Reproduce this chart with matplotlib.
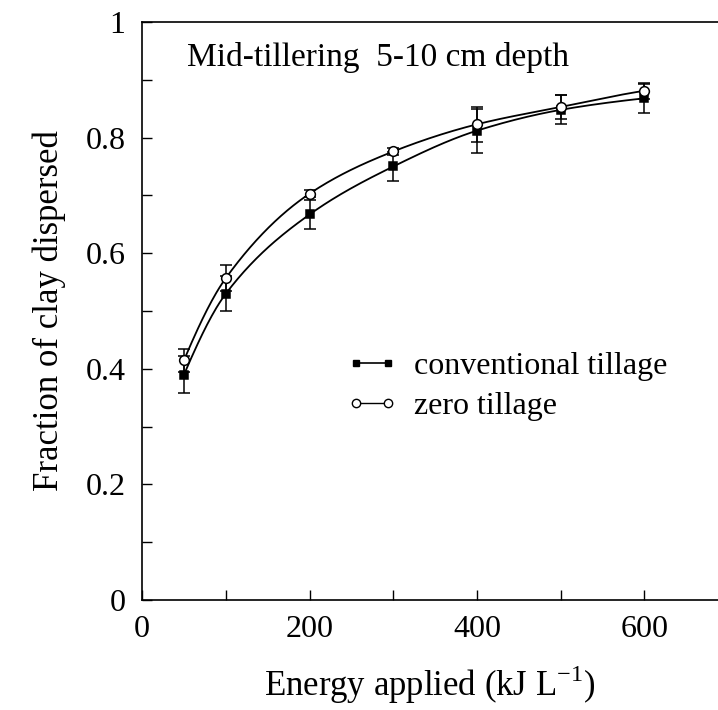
import numpy as np
import matplotlib
matplotlib.use("Agg")
import matplotlib.pyplot as plt
from matplotlib.lines import Line2D
from matplotlib.ticker import MultipleLocator, FixedLocator

plt.rcParams['font.family'] = ['Liberation Serif', 'DejaVu Serif']

energy = [50, 100, 200, 300, 400, 500, 600]
conv = [0.39, 0.53, 0.667, 0.75, 0.812, 0.848, 0.868]
conv_err = [0.032, 0.03, 0.025, 0.025, 0.038, 0.025, 0.025]
zero = [0.415, 0.557, 0.703, 0.776, 0.823, 0.853, 0.881]
zero_err = [0.02, 0.022, 0.006, 0.006, 0.03, 0.02, 0.014]
series_labels = ["conventional tillage", "zero tillage"]
title_text = "Mid-tillering  5-10 cm depth"
xlabel_text = "Energy applied (kJ L$^{\\mathregular{-1}}$)"
ylabel_text = "Fraction of clay dispersed"


def pchip(x, y, xs):
    x = np.asarray(x, float); y = np.asarray(y, float)
    h = np.diff(x); d = np.diff(y) / h
    n = len(x); m = np.zeros(n)
    for k in range(1, n - 1):
        if d[k - 1] * d[k] > 0:
            w1 = 2 * h[k] + h[k - 1]; w2 = h[k] + 2 * h[k - 1]
            m[k] = (w1 + w2) / (w1 / d[k - 1] + w2 / d[k])
    m[0] = d[0] * 1.2; m[-1] = d[-1] * 0.8
    out = np.empty_like(xs)
    for i, xv in enumerate(xs):
        k = min(max(np.searchsorted(x, xv) - 1, 0), n - 2)
        t = (xv - x[k]) / h[k]
        h00 = 2*t**3 - 3*t**2 + 1; h10 = t**3 - 2*t**2 + t
        h01 = -2*t**3 + 3*t**2; h11 = t**3 - t**2
        out[i] = h00*y[k] + h10*h[k]*m[k] + h01*y[k+1] + h11*h[k]*m[k+1]
    return out


fig = plt.figure(figsize=(7.18, 7.10), dpi=100)
ax = fig.add_axes([0.198, 0.155, 0.802, 0.814])

xs = np.linspace(energy[0], energy[-1], 300)
for vals, err, mk, fc in [(conv, conv_err, 's', 'black'), (zero, zero_err, 'o', 'white')]:
    ax.plot(xs, pchip(energy, vals, xs), color='black', lw=1.3, zorder=2)
    ax.errorbar(energy, vals, yerr=err, fmt='none', ecolor='black', elinewidth=1.1,
                capsize=4, capthick=1.1, zorder=3)
    ax.plot(energy, vals, linestyle='none', marker=mk, markersize=7 if mk == 'o' else 6,
            markerfacecolor=fc, markeredgecolor='black', markeredgewidth=1.1, zorder=4)

ax.set_xlim(0, 688)
ax.set_ylim(0, 1)
ax.xaxis.set_major_locator(FixedLocator([0, 200, 400, 600]))
ax.xaxis.set_minor_locator(MultipleLocator(100))
ax.yaxis.set_major_locator(FixedLocator([0, 0.2, 0.4, 0.6, 0.8, 1.0]))
ax.yaxis.set_minor_locator(MultipleLocator(0.1))
ax.set_yticklabels(["0", "0.2", "0.4", "0.6", "0.8", "1"])
ax.tick_params(which='both', direction='in', length=7, width=1.0, labelsize=23)
ax.tick_params(axis='x', pad=11)
ax.tick_params(axis='y', pad=12)
ax.spines['right'].set_visible(False)
for s in ['left', 'bottom', 'top']:
    ax.spines[s].set_linewidth(1.2)

ax.text(0.078, 0.924, title_text, transform=ax.transAxes, fontsize=24,
        va='baseline', ha='left')
ax.set_xlabel(xlabel_text, fontsize=25, labelpad=14)
ax.set_ylabel(ylabel_text, fontsize=25, labelpad=14)

handles = [Line2D([0], [0], color='black', lw=1.2, marker='s', markersize=5,
                  markerfacecolor='black', markeredgecolor='black'),
           Line2D([0], [0], color='black', lw=1.0, marker='o', markersize=6,
                  markerfacecolor='white', markeredgecolor='black')]
ax.legend(handles, series_labels, loc='upper left', bbox_to_anchor=(0.355, 0.43),
          frameon=False, fontsize=23, numpoints=2, handlelength=1.6,
          handletextpad=0.5, labelspacing=0.35, borderaxespad=0, borderpad=0)

fig.savefig("out.png", dpi=100)
